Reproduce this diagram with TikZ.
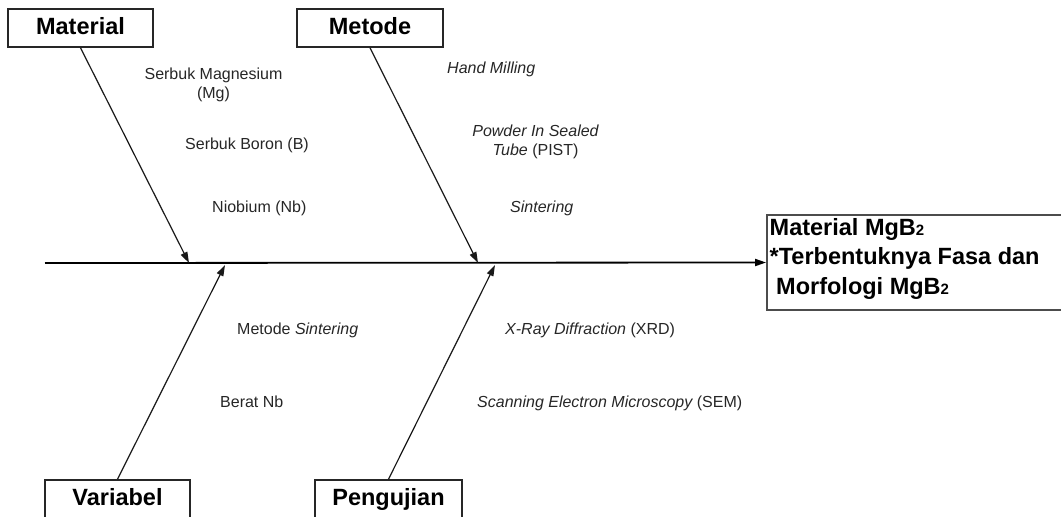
\documentclass[tikz,border=0pt]{standalone}
\usepackage{fontspec}
\setmainfont{Liberation Sans}
\usetikzlibrary{arrows.meta}
\newcommand\subtwo{{\fontsize{15}{15}\selectfont 2}}
\tikzset{
  catbox/.style={draw=black!85, line width=1.6pt, fill=white, minimum height=38pt, inner sep=0pt,
    text height=17pt, text depth=5pt,
    font=\fontsize{23.5}{26}\selectfont\bfseries},
  cause/.style={anchor=west, inner sep=0pt, font=\fontsize{16}{19}\selectfont, text=black!85},
  bone/.style={line width=1.2pt, black!90, -{Triangle[length=11pt,width=7pt]}},
  spine/.style={line width=1.8pt, black, -{Triangle[length=11pt,width=7pt]}},
}
\begin{document}
\begin{tikzpicture}[x=1pt,y=-1pt]
\useasboundingbox (0,0) rectangle (1061,517);
\clip (0,0) rectangle (1061,517);
% category boxes
\node[catbox, minimum width=145pt] (mat) at (80.5,28) {Material};
\node[catbox, minimum width=146pt] (met) at (370,28) {Metode};
\node[catbox, minimum width=145pt] (var) at (117.5,499) {Variabel};
\node[catbox, minimum width=147pt] (pen) at (388.5,499) {Pengujian};
% output box
\node[draw=black!70, line width=1.8pt, fill=white, minimum width=298pt, minimum height=95pt, inner sep=0pt] (out) at (916,262.5) {};
\node[anchor=west, align=left, inner sep=0pt, font=\fontsize{23.5}{29.5}\selectfont\bfseries] (outtext) at (769.5,258.5)
  {Material MgB\subtwo\\*Terbentuknya Fasa dan\\\ Morfologi MgB\subtwo};
% tips
\coordinate (s0) at (45,263);
\coordinate (t1) at (189,263);
\coordinate (t2) at (478,263);
\coordinate (t3) at (225,265);
\coordinate (t4) at (495,265);
\draw[spine] (s0) -- (out.west);
\draw[bone] (mat.south) -- (t1);
\draw[bone] (met.south) -- (t2);
\draw[bone] (var.north) -- (t3);
\draw[bone] (pen.north) -- (t4);
% causes
\node[cause, align=center, anchor=center] (c1) at (213.5,84.5) {Serbuk Magnesium\\(Mg)};
\node[cause] (c2) at (185,145) {Serbuk Boron (B)};
\node[cause] (c3) at (212,208) {Niobium (Nb)};
\node[cause] (c4) at (447,69) {\itshape Hand Milling};
\node[cause, align=center, anchor=center] (c5) at (535.5,142) {\itshape Powder In Sealed\\\itshape Tube \upshape(PIST)};
\node[cause] (c6) at (510,208) {\itshape Sintering};
\node[cause] (c7) at (237,330) {Metode \itshape Sintering};
\node[cause] (c8) at (220,402) {Berat Nb};
\node[cause] (c9) at (505,330) {\itshape X-Ray Diffraction \upshape(XRD)};
\node[cause] (c10) at (477,403) {\itshape Scanning Electron Microscopy \upshape(SEM)};
\end{tikzpicture}
\end{document}
